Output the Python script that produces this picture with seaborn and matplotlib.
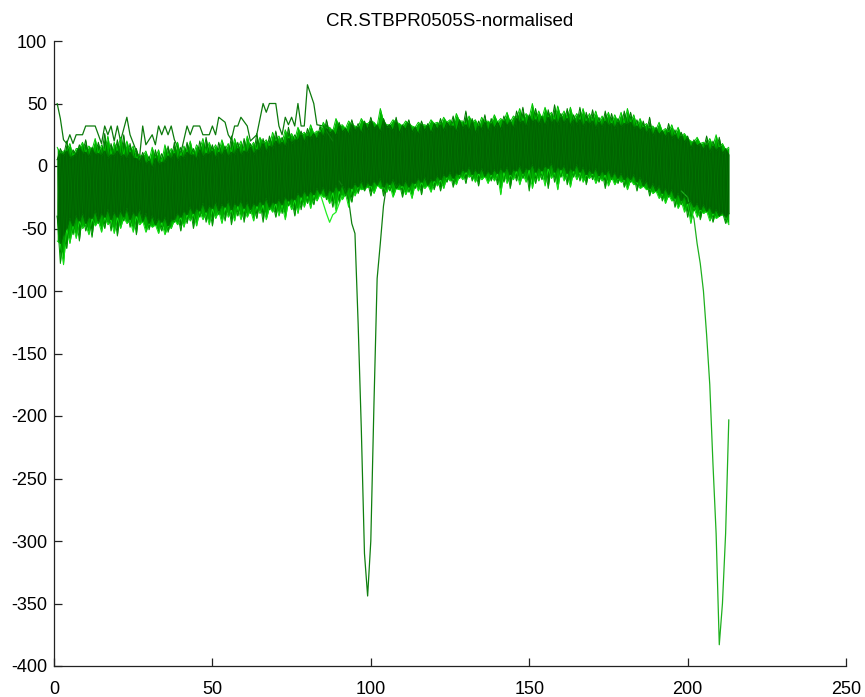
import seaborn as sns
import matplotlib
matplotlib.use("Agg")
import matplotlib.pyplot as plt

# ---------------------------------------------------------
# Values
# ---------------------------------------------------------
odd_x = list(range(1, 214, 2))
even_x = list(range(2, 213, 2))

# outer edge of the band, at odd x
outer_hi = [15, 12, 18, 14, 19, 16, 22, 17, 24, 19,
            23, 20, 16, 9, 12, 15, 13, 17, 14, 19,
            16, 20, 17, 22, 19, 17, 21, 18, 22, 20,
            24, 19, 23, 21, 27, 24, 29, 26, 31, 27,
            33, 28, 35, 31, 38, 33, 36, 32, 38, 34,
            35, 46, 33, 37, 34, 36, 32, 35, 33, 37,
            35, 39, 37, 42, 36, 40, 37, 39, 36, 41,
            38, 43, 40, 46, 42, 50, 44, 47, 43, 48,
            44, 47, 42, 46, 42, 44, 40, 43, 41, 43,
            46, 41, 38, 34, 32, 35, 30, 33, 31, 26,
            20, 23, 19, 22, 25, 18, 15]

outer_lo = [-60, -79, -62, -58, -50, -55, -48, -53, -47, -54,
            -50, -46, -53, -47, -53, -49, -54, -55, -50, -47,
            -49, -44, -48, -43, -47, -42, -46, -41, -44, -43,
            -41, -44, -38, -43, -37, -40, -43, -35, -38, -33,
            -34, -28, -25, -30, -36, -27, -33, -24, -19, -17,
            -22, -18, -21, -25, -19, -23, -26, -20, -18, -21,
            -16, -18, -12, -15, -11, -9, -13, -11, -14, -12,
            -23, -14, -11, -15, -13, -18, -12, -16, -10, -19,
            -12, -17, -11, -13, -10, -14, -12, -16, -15, -13,
            -19, -15, -18, -19, -22, -26, -30, -28, -34, -37,
            -46, -41, -38, -44, -42, -39, -47]

# outer edge again, at even x
even_hi = [14, 20, 13, 17, 21, 15, 19, 26, 18, 21,
           25, 18, 14, 11, 8, 13, 10, 16, 19, 15,
           19, 14, 20, 23, 17, 19, 16, 24, 19, 22,
           18, 26, 22, 24, 28, 23, 31, 25, 28, 30,
           26, 32, 37, 29, 35, 30, 37, 34, 36, 39,
           33, 38, 31, 39, 33, 37, 30, 36, 34, 32,
           38, 34, 40, 37, 44, 38, 36, 41, 38, 35,
           40, 37, 44, 47, 41, 46, 40, 45, 49, 42,
           46, 41, 47, 43, 45, 39, 44, 42, 38, 44,
           43, 37, 36, 39, 31, 28, 34, 29, 27, 24,
           21, 17, 24, 20, 23, 14]

even_lo = [-78, -66, -55, -60, -52, -57, -46, -50, -52, -56,
           -44, -49, -55, -45, -51, -47, -52, -53, -45, -52,
           -46, -50, -41, -45, -48, -39, -44, -47, -40, -45,
           -38, -42, -45, -35, -41, -38, -32, -40, -35, -30,
           -31, -23, -27, -33, -29, -24, -29, -22, -20, -24,
           -16, -24, -20, -17, -25, -21, -18, -23, -16, -19,
           -20, -13, -17, -10, -14, -12, -16, -9, -12, -15,
           -13, -18, -12, -10, -20, -14, -11, -18, -13, -9,
           -15, -9, -12, -15, -11, -13, -18, -11, -14, -17,
           -13, -20, -16, -24, -20, -28, -25, -33, -31, -41,
           -36, -43, -37, -45, -40, -46]

# dark core of the band, at odd x
inner_hi = [5, 8, 6, 9, 10, 7, 9, 8, 6, 8,
            7, 5, 6, 3, 1, -2, 1, 3, 5, 4,
            6, 8, 5, 7, 9, 6, 8, 7, 9, 8,
            10, 9, 12, 11, 14, 16, 15, 18, 20, 19,
            22, 21, 23, 26, 24, 27, 25, 28, 26, 29,
            30, 27, 31, 28, 26, 29, 27, 25, 28, 26,
            29, 28, 31, 27, 30, 28, 26, 29, 27, 30,
            29, 32, 30, 34, 31, 35, 33, 32, 34, 33,
            34, 32, 33, 31, 33, 30, 31, 32, 30, 31,
            33, 30, 28, 26, 24, 25, 23, 22, 20, 19,
            14, 16, 13, 11, 12, 10, 9]

inner_lo = [-40, -55, -42, -40, -38, -41, -36, -38, -35, -37,
            -36, -34, -37, -35, -38, -40, -42, -41, -43, -38,
            -36, -33, -34, -30, -32, -29, -31, -28, -30, -28,
            -29, -30, -28, -26, -29, -27, -25, -26, -22, -20,
            -20, -18, -17, -19, -16, -15, -17, -14, -12, -13,
            -12, -10, -13, -11, -14, -12, -13, -10, -9, -11,
            -8, -7, -5, -6, -3, -1, -3, -2, -4, -3,
            -2, -1, -3, 0, -2, 1, -1, 0, 2, -1,
            0, -2, 1, -1, -3, -2, -4, -3, -5, -6,
            -8, -7, -9, -12, -14, -16, -18, -19, -22, -24,
            -28, -30, -31, -33, -35, -37, -38]

# dark core, at even x
core_hi = [10, 12, 8, 14, 11, 13, 10, 12, 9, 12,
           9, 11, 6, 8, 4, 6, 3, 8, 10, 8,
           11, 9, 13, 10, 12, 11, 13, 11, 14, 12,
           15, 13, 18, 16, 20, 19, 22, 21, 25, 24,
           26, 27, 30, 28, 32, 30, 33, 31, 34, 36,
           32, 36, 33, 35, 32, 34, 31, 33, 32, 34,
           33, 35, 32, 36, 33, 35, 32, 35, 34, 35,
           36, 35, 38, 36, 39, 37, 38, 39, 37, 39,
           38, 37, 37, 36, 36, 35, 36, 34, 35, 34,
           35, 32, 31, 30, 29, 28, 27, 25, 24, 22,
           19, 18, 17, 16, 15, 13]

core_lo = [-62, -50, -48, -44, -46, -42, -44, -41, -43, -41,
           -41, -43, -40, -44, -46, -47, -45, -48, -43, -41,
           -39, -38, -36, -37, -34, -36, -33, -35, -32, -34,
           -35, -32, -31, -33, -30, -31, -28, -27, -25, -24,
           -23, -22, -24, -21, -20, -22, -18, -17, -18, -16,
           -15, -17, -15, -18, -16, -17, -14, -13, -15, -12,
           -11, -9, -10, -7, -5, -7, -6, -8, -7, -6,
           -5, -7, -4, -6, -3, -5, -4, -2, -5, -3,
           -6, -4, -5, -7, -6, -8, -7, -9, -10, -11,
           -11, -13, -16, -18, -20, -22, -23, -26, -28, -30,
           -33, -35, -36, -38, -40, -41]

# the one high trace above the band on the left
high_x = [1, 2, 3, 4, 5, 6, 7, 9, 10, 13, 15, 16, 17, 18, 19, 20, 21, 23, 24, 26,
          27, 28, 29, 31, 32, 33, 34, 35, 36, 37, 38, 40, 42, 43, 44, 46, 47, 49, 50, 51,
          52, 54, 55, 56, 57, 58, 59, 61, 62, 64, 66, 67, 68, 70, 71, 72, 73, 74, 75, 76,
          77, 78, 79, 80, 82, 83, 85, 88]
high_y = [50, 38, 21, 18, 25, 18, 25, 25, 32, 32, 18, 32, 25, 32, 20, 32, 20, 39, 25, 12,
          7, 32, 17, 25, 17, 32, 25, 32, 25, 32, 21, 10, 32, 25, 32, 32, 25, 25, 32, 25,
          39, 35, 25, 21, 32, 32, 39, 32, 20, 25, 50, 43, 50, 50, 32, 25, 39, 33, 39, 32,
          50, 32, 32, 65, 50, 33, 32, 20]

# the two traces that drop out of the band
dip1_x = [90, 92, 93, 94, 95, 96, 97, 98, 99, 100, 101, 102, 103, 104, 105]
dip1_y = [-12, -20, -27, -46, -54, -126, -210, -310, -344, -300, -190, -90, -62, -32, -15]

dip2_x = [198, 200, 201, 202, 203, 204, 205, 206, 207, 208, 209, 210, 211, 212, 213]
dip2_y = [-20, -25, -35, -42, -62, -78, -100, -135, -175, -238, -294, -383, -350, -294, -203]

# bright low trace near x = 87
low_x = [84, 85, 86, 87, 88, 89, 90, 91]
low_y = [-22, -30, -38, -45, -39, -37, -30, -24]

x_ticks = [0, 50, 100, 150, 200, 250]
y_ticks = [-400, -350, -300, -250, -200, -150, -100, -50, 0, 50, 100]

title_text = "CR.STBPR0505S-normalised"


def weave(odd_vals, even_vals):
    # merge odd-x and even-x readings into one trace over x = 1..213
    merged = []
    for i, v in enumerate(odd_vals):
        merged.append(v)
        if i < len(even_vals):
            merged.append(even_vals[i])
    return merged


all_x = weave(odd_x, even_x)

# ---------------------------------------------------------
# Style
# ---------------------------------------------------------
sns.set_style("ticks")
plt.rcParams["font.family"] = ["Liberation Sans", "DejaVu Sans"]
plt.rcParams["axes.edgecolor"] = "#222222"
plt.rcParams["axes.linewidth"] = 0.9
plt.rcParams["axes.unicode_minus"] = False

fig = plt.figure(figsize=(8.65, 6.97), dpi=100)
ax = fig.add_axes([54 / 865, 1 - 666 / 697, (846 - 54) / 865, (666 - 41) / 697])

# ---------------------------------------------------------
# Single traces
# ---------------------------------------------------------
sns.lineplot(x=high_x, y=high_y, color="#0c7a0c", linewidth=0.9, estimator=None, ax=ax)
sns.lineplot(x=dip1_x, y=dip1_y, color="#0f7f0f", linewidth=0.9, estimator=None, ax=ax)
sns.lineplot(x=dip2_x, y=dip2_y, color="#1eb01e", linewidth=0.9, estimator=None, ax=ax)
sns.lineplot(x=low_x, y=low_y, color="#22ee22", linewidth=0.9, estimator=None, ax=ax)

# ---------------------------------------------------------
# Band of traces, outermost layer first
# ---------------------------------------------------------
bright_hi = weave(outer_hi, core_hi)
bright_lo = weave(outer_lo, core_lo)
mid_hi = weave(inner_hi, even_hi)
mid_lo = weave(inner_lo, even_lo)
dark_hi = weave(inner_hi, core_hi)
dark_lo = weave(inner_lo, core_lo)

ax.fill_between(all_x, bright_lo, bright_hi, color="#00b000", linewidth=0)
sns.lineplot(x=all_x, y=bright_hi, color="#00c800", linewidth=0.7, estimator=None, ax=ax)
sns.lineplot(x=all_x, y=bright_lo, color="#10e010", linewidth=0.7, estimator=None, ax=ax)
ax.fill_between(all_x, mid_lo, mid_hi, color="#008400", linewidth=0)
sns.lineplot(x=all_x, y=mid_hi, color="#007c00", linewidth=0.7, estimator=None, ax=ax)
sns.lineplot(x=all_x, y=mid_lo, color="#009a00", linewidth=0.7, estimator=None, ax=ax)
ax.fill_between(all_x, dark_lo, dark_hi, color="#006400", linewidth=0)
sns.lineplot(x=all_x, y=dark_hi, color="#006400", linewidth=0.7, estimator=None, ax=ax)
sns.lineplot(x=all_x, y=dark_lo, color="#006e00", linewidth=0.7, estimator=None, ax=ax)

# faint streaks running across the core
sns.lineplot(x=all_x, y=weave(inner_hi, core_lo), color="#008000", linewidth=0.5, alpha=0.45, estimator=None, ax=ax)
sns.lineplot(x=all_x, y=weave(inner_lo, core_hi), color="#008a00", linewidth=0.5, alpha=0.35, estimator=None, ax=ax)

# ---------------------------------------------------------
# Axes
# ---------------------------------------------------------
ax.set_xlim(0, 250)
ax.set_ylim(-400, 100)
ax.set_xticks(x_ticks)
ax.set_yticks(y_ticks)
ax.tick_params(direction="in", length=5.8, width=0.9, labelsize=13, color="#222222", labelcolor="black")
ax.tick_params(axis="x", pad=11)
ax.tick_params(axis="y", pad=5)
sns.despine(ax=ax)
ax.set_title(title_text, fontsize=13.5, pad=11, color="black")

fig.savefig("out.png", dpi=100)
